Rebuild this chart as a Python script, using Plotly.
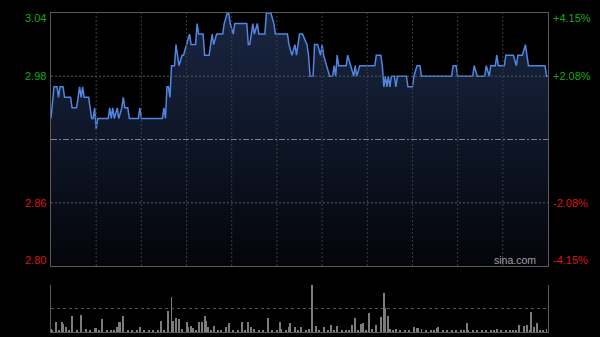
import plotly.graph_objects as go

# ---- data ----
times = [0, 2, 4, 5, 6, 8, 9, 13, 14, 17, 18, 19, 20, 21, 22, 25, 26, 27, 28, 29,
         30, 31, 38, 39, 40, 41, 42, 44, 45, 47, 48, 49, 51, 52, 58, 59, 60, 74, 75, 76,
         77, 78, 79, 80, 82, 83, 85, 87, 88, 90, 92, 93, 96, 97, 98, 101, 102, 105, 106, 107,
         108, 110, 114, 115, 117, 118, 119, 121, 122, 130, 131, 132, 134, 135, 137, 138, 142, 143, 146, 148,
         149, 157, 158, 160, 162, 163, 165, 167, 170, 171, 172, 174, 175, 177, 179, 180, 181, 183, 185, 187,
         188, 189, 190, 191, 196, 197, 199, 201, 202, 203, 205, 215, 216, 219, 220, 221, 222, 223, 224, 225,
         226, 228, 229, 230, 236, 237, 240, 241, 243, 245, 246, 266, 267, 269, 270, 280, 281, 283, 288, 289,
         291, 292, 295, 296, 297, 301, 302, 307, 309, 310, 313, 315, 316, 317, 328, 329, 330]
prices = [2.94, 2.97, 2.97, 2.96, 2.97, 2.97, 2.96, 2.96, 2.95, 2.95, 2.96, 2.97, 2.96, 2.97, 2.96, 2.96, 2.95, 2.94, 2.94, 2.95,
          2.93, 2.94, 2.94, 2.95, 2.94, 2.95, 2.94, 2.95, 2.94, 2.95, 2.96, 2.95, 2.95, 2.94, 2.94, 2.95, 2.94, 2.94, 2.95, 2.94,
          2.97, 2.97, 2.96, 2.99, 2.99, 3.01, 2.99, 3.00, 3.00, 3.01, 3.02, 3.01, 3.01, 3.03, 3.02, 3.02, 3.00, 3.00, 3.01, 3.02,
          3.01, 3.02, 3.02, 3.03, 3.04, 3.04, 3.03, 3.02, 3.03, 3.03, 3.01, 3.01, 3.03, 3.02, 3.03, 3.02, 3.02, 3.04, 3.04, 3.03,
          3.02, 3.02, 3.01, 3.00, 3.01, 3.00, 3.02, 3.02, 3.01, 3.00, 2.98, 2.98, 3.01, 3.01, 3.00, 3.01, 3.00, 2.99, 2.98, 2.98,
          2.99, 2.98, 3.00, 2.99, 2.99, 3.00, 2.99, 2.98, 2.99, 2.98, 2.99, 2.99, 3.00, 3.00, 2.99, 2.97, 2.98, 2.97, 2.98, 2.97,
          2.98, 2.98, 2.97, 2.98, 2.98, 2.97, 2.97, 2.98, 2.99, 2.99, 2.98, 2.98, 2.99, 2.99, 2.98, 2.98, 2.99, 2.98, 2.98, 2.99,
          2.98, 2.99, 2.99, 3.00, 2.99, 2.99, 3.00, 3.00, 2.99, 3.00, 3.00, 3.01, 3.00, 2.99, 2.99, 2.98, 2.98]

vol_minutes = [0, 1, 3, 5, 7, 8, 10, 12, 14, 17, 20, 23, 26, 29, 30, 32, 34, 37, 40, 42,
               44, 45, 46, 48, 51, 54, 57, 59, 62, 65, 68, 71, 73, 75, 78, 80, 81, 83, 85, 87,
               90, 91, 93, 94, 96, 98, 100, 102, 103, 104, 106, 108, 111, 113, 116, 118, 121, 124, 127, 129,
               131, 133, 135, 138, 141, 144, 147, 150, 152, 153, 156, 158, 159, 162, 164, 166, 169, 171, 173, 176,
               178, 181, 184, 186, 188, 190, 193, 196, 198, 200, 202, 204, 206, 207, 209, 211, 213, 216, 219, 221,
               222, 224, 225, 227, 229, 232, 235, 238, 241, 243, 244, 246, 249, 252, 254, 256, 257, 260, 263, 266,
               269, 272, 274, 276, 277, 280, 283, 286, 289, 292, 294, 296, 299, 302, 305, 307, 309, 311, 314, 316,
               318, 319, 321, 323, 325, 327, 329]
vol_values = [57, 30, 220, 40, 220, 170, 100, 30, 330, 40, 360, 57, 35, 78, 78, 30, 280, 40, 35, 30,
              100, 220, 220, 340, 43, 30, 35, 110, 30, 25, 40, 30, 230, 35, 450, 740, 230, 290, 280, 57,
              220, 110, 130, 78, 40, 220, 220, 340, 240, 110, 40, 130, 35, 30, 100, 200, 30, 40, 220, 35,
              220, 110, 57, 30, 40, 300, 35, 30, 220, 57, 35, 110, 200, 100, 30, 100, 40, 57, 1000, 130,
              40, 100, 30, 150, 35, 130, 40, 30, 35, 150, 290, 40, 180, 200, 35, 400, 57, 150, 310, 840,
              500, 340, 57, 30, 57, 30, 25, 35, 100, 78, 78, 57, 30, 35, 25, 78, 110, 43, 30, 35,
              25, 30, 35, 200, 28, 30, 35, 25, 30, 40, 43, 57, 30, 35, 40, 30, 35, 150, 130, 150,
              35, 430, 110, 200, 40, 35, 57]

prev_close = 2.92
y_min, y_max = 2.80, 3.04
label_prices = [3.04, 2.98, 2.86, 2.80]
left_labels = ["3.04", "2.98", "2.86", "2.80"]
right_labels = ["+4.15%", "+2.08%", "-2.08%", "-4.15%"]
label_colors = ["#16a816", "#16a816", "#d81818", "#d81818"]
label_shift = [-5, 0, 0, 6]
grid_prices = [2.86, 2.98]
grid_minutes = [30, 60, 90, 120, 150, 180, 210, 240, 270, 300]
session_minutes = 330

FONT = "Liberation Sans, Arial, sans-serif"

fig = go.Figure()
fig.add_trace(go.Scatter(
    x=times, y=prices, mode="lines",
    line=dict(color="#5086e2", width=1.5),
    fill="tozeroy",
    fillgradient=dict(type="vertical",
                      colorscale=[[0, "rgb(4,5,10)"], [0.5, "rgb(14,22,39)"], [1, "rgb(25,38,66)"]],
                      start=y_min, stop=y_max),
    xaxis="x", yaxis="y", hoverinfo="skip", showlegend=False))

fig.add_trace(go.Bar(
    x=vol_minutes, y=vol_values, width=0.65,
    marker=dict(color="#7c7c7c", line=dict(width=0)),
    xaxis="x2", yaxis="y2", hoverinfo="skip", showlegend=False))

# grid drawn over the area fill (as in the reference)
for m in grid_minutes:
    fig.add_shape(type="line", xref="x", yref="y domain", x0=m, x1=m, y0=0, y1=1,
                  line=dict(color="#3a3d44", width=1, dash="2px,2px"), layer="above")
for p in grid_prices:
    fig.add_shape(type="line", xref="x domain", yref="y", x0=0, x1=1, y0=p, y1=p,
                  line=dict(color="#55585e", width=1, dash="2px,2px"), layer="above")
fig.add_shape(type="line", xref="x domain", yref="y", x0=0, x1=1, y0=prev_close, y1=prev_close,
              line=dict(color="#808080", width=1, dash="6px,2px,2px,2px"), layer="above")

annotations = []
for p, ltxt, rtxt, col, sh in zip(label_prices, left_labels, right_labels, label_colors, label_shift):
    annotations.append(dict(x=0, xref="paper", xanchor="right", xshift=-3, y=p, yref="y",
                            yanchor="middle", yshift=sh, text=ltxt, showarrow=False,
                            font=dict(family=FONT, size=11, color=col)))
    annotations.append(dict(x=1, xref="paper", xanchor="left", xshift=3, y=p, yref="y",
                            yanchor="middle", yshift=sh, text=rtxt, showarrow=False,
                            font=dict(family=FONT, size=11, color=col)))
annotations.append(dict(x=1, xref="paper", xanchor="right", xshift=-10, y=y_min, yref="y",
                        yanchor="middle", yshift=6, text="sina.com", showarrow=False,
                        font=dict(family=FONT, size=10.5, color="#a0a0a0")))

axis_line = "#5a5a5a"
fig.update_layout(
    width=600, height=337,
    margin=dict(l=51, r=52, t=13, b=5),
    paper_bgcolor="#000000", plot_bgcolor="#000000",
    bargap=0,
    xaxis=dict(domain=[0, 1], range=[0, session_minutes], anchor="y",
               showticklabels=False, ticks="", showgrid=False,
               showline=True, linecolor=axis_line, linewidth=1, mirror=True, zeroline=False),
    yaxis=dict(domain=[0.2069, 1], range=[y_min, y_max], anchor="x",
               showticklabels=False, ticks="", showgrid=False,
               showline=True, linecolor=axis_line, linewidth=1, mirror=True, zeroline=False),
    xaxis2=dict(domain=[0, 1], range=[0, session_minutes], anchor="y2",
                showticklabels=False, ticks="", showgrid=False,
                showline=True, linecolor=axis_line, linewidth=1, mirror=False, zeroline=False),
    yaxis2=dict(domain=[0, 0.1473], range=[0, 1000], anchor="x2",
                tickvals=[500, 1000], showticklabels=False, ticks="",
                showgrid=True, gridcolor="#555555", griddash="dot", gridwidth=1,
                showline=True, linecolor=axis_line, linewidth=1, mirror=True, zeroline=False),
    annotations=annotations,
)

fig.write_html("out.html")
